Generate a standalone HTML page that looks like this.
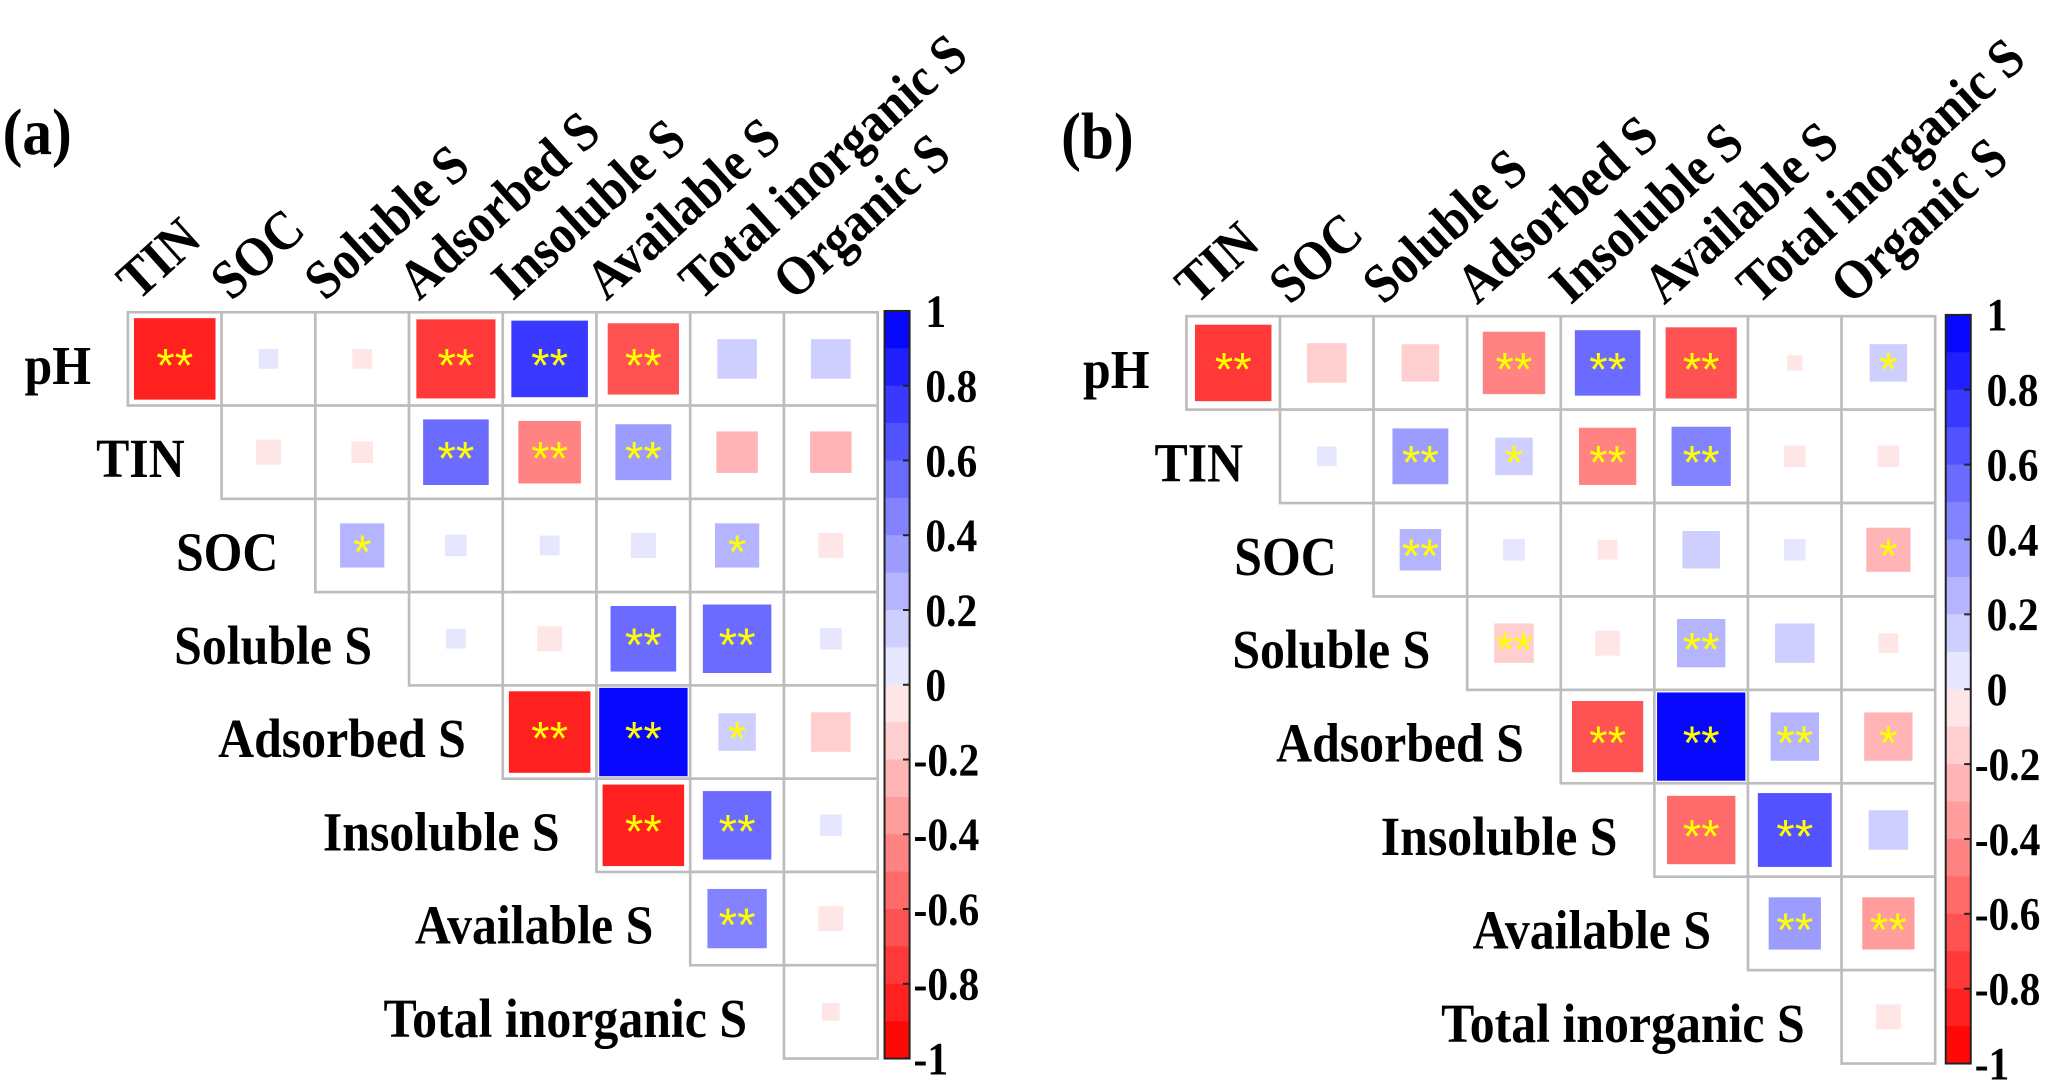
<!DOCTYPE html>
<html><head><meta charset="utf-8"><style>
html,body{margin:0;padding:0;background:#fff;overflow:hidden}
svg{display:block}
text{font-family:"Liberation Serif",serif;font-weight:bold;fill:#000}
</style></head><body>
<svg id="fig" width="2067" height="1087" viewBox="0 0 1568 825" preserveAspectRatio="none" xmlns="http://www.w3.org/2000/svg"></svg>
<script>
const rowLabels = ["pH","TIN","SOC","Soluble S","Adsorbed S","Insoluble S","Available S","Total inorganic S"];
const colLabels = ["TIN","SOC","Soluble S","Adsorbed S","Insoluble S","Available S","Total inorganic S","Organic S"];
const tickLabels = ["1","0.8","0.6","0.4","0.2","0","-0.2","-0.4","-0.6","-0.8","-1"];
const tickValues = [1,0.8,0.6,0.4,0.2,0,-0.2,-0.4,-0.6,-0.8,-1];
const valuesA = [
 [-0.85,0.05,-0.05,-0.8,0.75,-0.65,0.2,0.2],
 [-0.08,-0.06,0.55,-0.5,0.4,-0.22,-0.22],
 [0.25,0.06,0.05,0.08,0.25,-0.08],
 [0.05,-0.08,0.55,0.6,0.06],
 [-0.85,1.0,0.18,-0.2],
 [-0.85,0.6,0.06],
 [0.45,-0.08],
 [-0.04]
];
const sigA = [
 ["**","","","**","**","**","",""],
 ["","","**","**","**","",""],
 ["*","","","","*",""],
 ["","","**","**",""],
 ["**","**","*",""],
 ["**","**",""],
 ["**",""],
 [""]
];
const valuesB = [
 [-0.75,-0.2,-0.18,-0.5,0.55,-0.65,-0.03,0.18],
 [0.05,0.4,0.18,-0.42,0.45,-0.06,-0.06],
 [0.22,0.06,-0.05,0.18,0.06,-0.25],
 [-0.2,-0.08,0.3,0.2,-0.05],
 [-0.65,1.0,0.3,-0.3],
 [-0.6,0.7,0.2],
 [0.35,-0.35],
 [-0.08]
];
const sigB = [
 ["**","","","**","**","**","","*"],
 ["","**","*","**","**","",""],
 ["**","","","","","*"],
 ["**","","**","",""],
 ["**","**","**","*"],
 ["**","**",""],
 ["**","**"],
 [""]
];
const NS="http://www.w3.org/2000/svg";
const svg=document.getElementById('fig');
function mk(tag,attrs,parent){const e=document.createElementNS(NS,tag);for(const k in attrs)e.setAttribute(k,attrs[k]);(parent||svg).appendChild(e);return e;}
function txt(parent,x,y,str,size,anchor,rot){
  const e=mk('text',{x:0,y:0,'font-size':size,'text-anchor':anchor||'start',transform:`translate(${x} ${y}) rotate(${rot||0}) scale(0.9 1)`},parent);
  e.textContent=str;return e;
}
function color(r){
  const t=Math.min(1,Math.ceil(Math.abs(r)*10-1e-9)/10);
  const v=Math.round(255*(1-t*0.97));
  return r>=0?`rgb(${v},${v},255)`:`rgb(255,${v},${v})`;
}
function panel(name,title,x0,y0,cw,ch,vals,sig,cbx){
  const g=mk('g',{});
  
  
  const t=txt(g,x0-95,y0-120,title,50);
  
  colLabels.forEach((c,j)=>{
    const e=txt(g,x0+cw*(j+0.5)-28,y0-8,c,42,'start',-42);
    
    
  });
  rowLabels.forEach((rl,i)=>{
    const e=txt(g,x0+cw*i-28,y0+ch*(i+0.5)+19,rl,42,'end');
    
    
    vals[i].forEach((r,k)=>{
      const j=i+k;
      const x=x0+cw*j,y=y0+ch*i;
      const cell=mk('rect',{x:x,y:y,width:cw,height:ch,fill:'#fff',stroke:'#bdbdbd','stroke-width':2},g);
      
      
      const s=Math.max(0.12,Math.sqrt(Math.abs(r)))*(cw-4);
      const sq=mk('rect',{x:x+cw/2-s/2,y:y+ch/2-s/2,width:s,height:s,fill:color(r)},g);
      
      
      if(sig[i][k]){
        const st=mk('text',{x:x+cw/2,y:y+ch/2+17,'font-size':36,'text-anchor':'middle',style:'fill:#ffff00;font-family:"Liberation Sans",sans-serif;font-weight:normal'},g);
        st.textContent=sig[i][k];
        
        
      }
    });
  });
  const top=y0-1, bot=y0+ch*8, w=19;
  const cb=mk('g',{},g);
  
  
  const n=20,h=(bot-top)/n;
  for(let k=0;k<n;k++){
    const v=1-(k+0.5)*2/n;
    mk('rect',{x:cbx,y:top+k*h,width:w,height:h+0.5,fill:color(v)},cb);
  }
  mk('rect',{x:cbx,y:top,width:w,height:bot-top,fill:'none',stroke:'#222','stroke-width':1.5},cb);
  tickValues.forEach((tv,k)=>{
    const y=top+(1-tv)/2*(bot-top);
    mk('line',{x1:cbx+w-5,x2:cbx+w,y1:y,y2:y,stroke:'#222','stroke-width':1.5},cb);
    const e=txt(cb,cbx+w+(tv<0?3:12),y+12,tickLabels[k],35);
    
    
  });
}
panel('panel-a','(a)',97,237,71.1,70.8,valuesA,sigA,671);
panel('panel-b','(b)',900,240,71,70.9,valuesB,sigB,1476);
</script>
</body></html>
